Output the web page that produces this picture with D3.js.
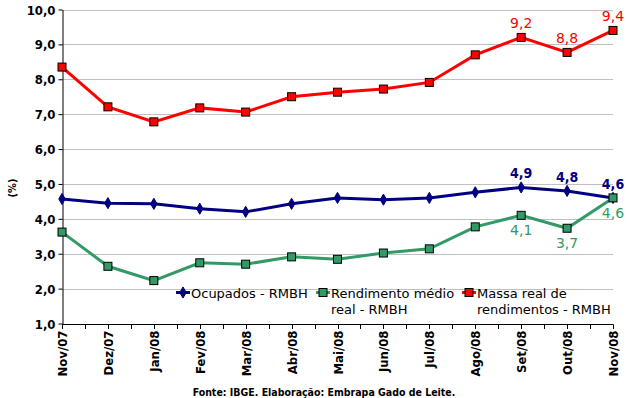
<!DOCTYPE html>
<html>
<head>
<meta charset="utf-8">
<script src="https://cdn.jsdelivr.net/npm/d3@7"></script>
<style>
  body { margin: 0; background: #fff; }
  svg { display: block; }
</style>
</head>
<body>
<svg width="627" height="398"></svg>
<script>
// months on the x axis
const months = ['Nov/07', 'Dez/07', 'Jan/08', 'Fev/08', 'Mar/08', 'Abr/08', 'Mai/08',
  'Jun/08', 'Jul/08', 'Ago/08', 'Set/08', 'Out/08', 'Nov/08'];

// series values (%)
const ocupados = [4.57, 4.45, 4.43, 4.29, 4.2, 4.43, 4.6, 4.55, 4.6, 4.76, 4.9, 4.8, 4.6];
const rendimento = [3.62, 2.64, 2.23, 2.74, 2.7, 2.91, 2.84, 3.02, 3.14, 3.77, 4.1, 3.73, 4.6];
const massa = [8.35, 7.21, 6.78, 7.18, 7.06, 7.5, 7.63, 7.72, 7.91, 8.7, 9.2, 8.77, 9.4];

const yTicks = [1, 2, 3, 4, 5, 6, 7, 8, 9, 10];

// the months that carry a value label, per series
const labelsOcupados = ['Set/08', 'Out/08', 'Nov/08'];
const labelsRendimento = ['Set/08', 'Out/08', 'Nov/08'];
const labelsMassa = ['Set/08', 'Out/08', 'Nov/08'];

const svg = d3.select('svg');
const plotLeft = 62, plotRight = 613, plotTop = 9.5, plotBottom = 323.5;

const x = d3.scalePoint().domain(months).range([plotLeft, plotRight]);
const y = d3.scaleLinear().domain([1, 10]).range([plotBottom, plotTop]);
const fmt = v => d3.format('.1f')(v).replace('.', ',');

// gridlines
svg.append('g')
  .selectAll('line')
  .data(yTicks.slice(1))
  .enter().append('line')
  .attr('x1', plotLeft).attr('x2', plotRight)
  .attr('y1', d => Math.round(y(d)) + 0.5).attr('y2', d => Math.round(y(d)) + 0.5)
  .attr('stroke', '#c0c0c0')
  .attr('stroke-width', 1);

// y axis
const yAxis = svg.append('g')
  .attr('transform', `translate(${plotLeft + 0.5},0)`)
  .call(d3.axisLeft(y).tickValues(yTicks).tickFormat(fmt).tickSize(4).tickSizeOuter(0));
yAxis.select('.domain').attr('stroke', '#000');
yAxis.selectAll('.tick line').attr('stroke', '#000');
yAxis.selectAll('text')
  .attr('font-family', 'DejaVu Sans Condensed, DejaVu Sans, sans-serif')
  .attr('font-weight', 'bold')
  .attr('font-size', 13)
  .attr('fill', '#000')
  .attr('x', -7)
  .attr('dy', '0.35em');

// x axis with ticks at half steps
const step = x.step();
const halfTicks = d3.range(0, months.length * 2 - 1).map(i => plotLeft + i * step / 2);
const xg = svg.append('g');
xg.append('line')
  .attr('x1', plotLeft).attr('x2', plotRight + 0.5)
  .attr('y1', Math.round(plotBottom) + 0.5).attr('y2', Math.round(plotBottom) + 0.5)
  .attr('stroke', '#000');
xg.selectAll('line.t')
  .data(halfTicks)
  .enter().append('line')
  .attr('class', 't')
  .attr('x1', d => Math.round(d) + 0.5).attr('x2', d => Math.round(d) + 0.5)
  .attr('y1', Math.round(plotBottom) + 0.5).attr('y2', Math.round(plotBottom) + 5)
  .attr('stroke', '#000');
xg.selectAll('text')
  .data(months)
  .enter().append('text')
  .attr('transform', d => `translate(${x(d) + 5},${plotBottom + 7}) rotate(-90)`)
  .attr('text-anchor', 'end')
  .attr('font-family', 'DejaVu Sans Condensed, DejaVu Sans, sans-serif')
  .attr('font-weight', 'bold')
  .attr('font-size', 13)
  .text(d => d);

// y label
svg.append('text')
  .attr('transform', 'translate(16,188) rotate(-90)')
  .attr('text-anchor', 'middle')
  .attr('font-family', 'DejaVu Sans Condensed, DejaVu Sans, sans-serif')
  .attr('font-weight', 'bold')
  .attr('font-size', 11)
  .text('(%)');

const line = d3.line().x((d, i) => x(months[i])).y(d => y(d));

function drawSeries(values, color, marker) {
  const g = svg.append('g');
  g.append('path')
    .datum(values)
    .attr('d', line)
    .attr('fill', 'none')
    .attr('stroke', color)
    .attr('stroke-width', 3);
  if (marker === 'square') {
    g.selectAll('rect')
      .data(values)
      .enter().append('rect')
      .attr('x', (d, i) => x(months[i]) - 4)
      .attr('y', d => y(d) - 4)
      .attr('width', 8).attr('height', 8)
      .attr('fill', color)
      .attr('stroke', '#000')
      .attr('stroke-width', 1);
  } else {
    g.selectAll('path.m')
      .data(values)
      .enter().append('path')
      .attr('class', 'm')
      .attr('d', d3.symbol(d3.symbolDiamond, 36))
      .attr('transform', (d, i) => `translate(${x(months[i])},${y(d)})`)
      .attr('fill', color)
      .attr('stroke', color);
  }
}

drawSeries(ocupados, '#000080', 'diamond');
drawSeries(rendimento, '#339966', 'square');
drawSeries(massa, '#ff0000', 'square');

// value labels
function drawLabels(values, which, color, dy, weight, family) {
  svg.append('g')
    .selectAll('text')
    .data(which)
    .enter().append('text')
    .attr('x', d => x(d))
    .attr('y', d => y(values[months.indexOf(d)]) + dy)
    .attr('text-anchor', 'middle')
    .attr('font-family', family)
    .attr('font-size', 14)
    .attr('font-weight', weight)
    .attr('fill', color)
    .text(d => fmt(values[months.indexOf(d)]));
}
drawLabels(massa, labelsMassa, '#ff0000', -9, 'normal', 'DejaVu Sans, sans-serif');
drawLabels(ocupados, labelsOcupados, '#000080', -9, 'bold', 'DejaVu Sans Condensed, DejaVu Sans, sans-serif');
drawLabels(rendimento, labelsRendimento, '#339966', 20, 'normal', 'DejaVu Sans, sans-serif');

// legend
const legendItems = [
  { lines: ['Ocupados - RMBH'], color: '#000080', marker: 'diamond', x: 176 },
  { lines: ['Rendimento médio', 'real - RMBH'], color: '#339966', marker: 'square', x: 316 },
  { lines: ['Massa real de', 'rendimentos - RMBH'], color: '#ff0000', marker: 'square', x: 462 }
];
const ly = 292.5;
const lg = svg.append('g').selectAll('g').data(legendItems).enter().append('g');
lg.append('line')
  .attr('x1', d => d.x).attr('x2', d => d.x + 14)
  .attr('y1', ly).attr('y2', ly)
  .attr('stroke', d => d.color).attr('stroke-width', 3);
lg.filter(d => d.marker === 'square').append('rect')
  .attr('x', d => d.x + 3).attr('y', ly - 4)
  .attr('width', 8).attr('height', 8)
  .attr('fill', d => d.color).attr('stroke', '#000');
lg.filter(d => d.marker === 'diamond').append('path')
  .attr('d', d3.symbol(d3.symbolDiamond, 36))
  .attr('transform', d => `translate(${d.x + 7},${ly})`)
  .attr('fill', d => d.color).attr('stroke', d => d.color);
lg.each(function (d) {
  const t = d3.select(this).append('text')
    .attr('font-family', 'DejaVu Sans, sans-serif')
    .attr('font-size', 13)
    .attr('fill', '#000');
  t.selectAll('tspan')
    .data(d.lines)
    .enter().append('tspan')
    .attr('x', d.x + 15)
    .attr('y', (s, i) => ly + 5 + i * 16)
    .text(s => s);
});

// source
svg.append('text')
  .attr('x', 324).attr('y', 396)
  .attr('text-anchor', 'middle')
  .attr('font-family', 'DejaVu Sans Condensed, DejaVu Sans, sans-serif')
  .attr('font-weight', 'bold')
  .attr('font-size', 10.5)
  .text('Fonte: IBGE. Elaboração: Embrapa Gado de Leite.');
</script>
</body>
</html>
